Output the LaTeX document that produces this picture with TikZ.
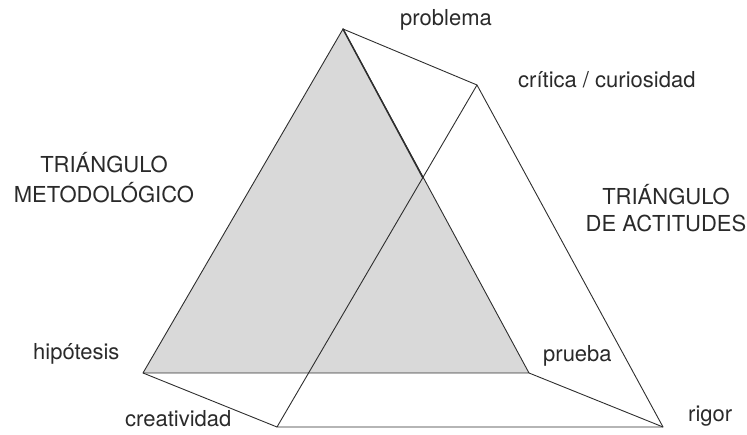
\documentclass[tikz,border=0pt]{standalone}
\usepackage{fontspec}
\setmainfont{TeX Gyre Heros}
\definecolor{edgecol}{HTML}{2E2E2E}
\definecolor{fillgray}{HTML}{D9D9D9}
\definecolor{textcol}{HTML}{2A2A2A}
\begin{document}
\begin{tikzpicture}[x=1pt,y=1pt,
  edge/.style={draw=edgecol,line width=0.9pt,line join=round},
  lbl/.style={inner sep=0pt,text=textcol,font=\fontsize{22}{30}\selectfont}]
\useasboundingbox (0,0) rectangle (747,435);
% vertices
\coordinate (A) at (343,406);
\coordinate (H) at (143,62);
\coordinate (P) at (529,62);
\coordinate (C) at (477,350);
\coordinate (Cr) at (277,8);
\coordinate (R) at (663,8);
\coordinate (X) at (423,257);
% methodological triangle
\fill[fillgray] (A) -- (H) -- (P) -- cycle;
\draw[edge] (A) -- (H) -- (P) -- cycle;
\draw[draw=edgecol,line width=1.5pt,line cap=round] (A) -- (X);
% attitudes triangle
\draw[edge] (C) -- (Cr) -- (R) -- cycle;
% connecting edges
\draw[edge] (A) -- (C);
\draw[edge] (H) -- (Cr);
\draw[edge] (P) -- (R);
% labels
\node[lbl,anchor=base west] (lprob) at (400,409) {problema};
\node[lbl,anchor=base west] (lcrit) at (518,347) {crítica / curiosidad};
\node[lbl,anchor=base] (lmet1) at (104,262) {TRIÁNGULO};
\node[lbl,anchor=base] (lmet2) at (104,232) {METODOLÓGICO};
\node[lbl,anchor=base] (lact1) at (666,230) {TRIÁNGULO};
\node[lbl,anchor=base] (lact2) at (666,203) {DE ACTITUDES};
\node[lbl,anchor=base west] (lhip) at (33,75) {hipótesis};
\node[lbl,anchor=base west] (lpru) at (543,73) {prueba};
\node[lbl,anchor=base west] (lcre) at (125,8) {creatividad};
\node[lbl,anchor=base west] (lrig) at (688,13) {rigor};
\end{tikzpicture}
\end{document}
